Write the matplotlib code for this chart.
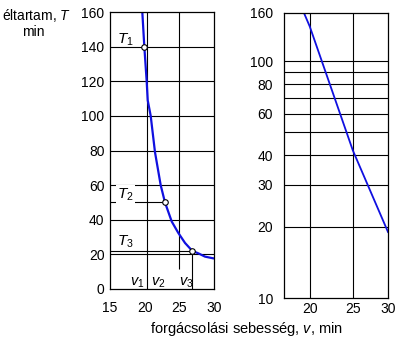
import numpy as np
import matplotlib.pyplot as plt
from matplotlib.ticker import FixedLocator, NullLocator, FixedFormatter

plt.rcParams['font.family'] = ['Liberation Sans', 'DejaVu Sans']
plt.rcParams['font.size'] = 10
plt.rcParams['mathtext.fontset'] = 'custom'
plt.rcParams['mathtext.rm'] = 'Liberation Sans'
plt.rcParams['mathtext.it'] = 'Liberation Sans:italic'

# bal oldali diagram: T(v) lineáris tengelyeken
v_curve = [19.66, 19.95, 20.29, 20.44, 20.87, 21.49, 22.31, 22.93, 23.9,
           24.85, 25.82, 26.87, 27.74, 28.7, 29.9, 30.0]
T_curve = [160, 140, 120, 109, 100, 79, 60, 50, 39,
           32.4, 26.6, 22, 20.6, 18.7, 17.7, 17.7]
v_points = [19.95, 22.93, 26.87]
T_points = [140, 50, 22]
T_labels = ['$T_1$', '$T_2$', '$T_3$']
v_labels = ['$v_1$', '$v_2$', '$v_3$']
left_xticks = [15, 20, 25, 30]
left_yticks = [0, 20, 40, 60, 80, 100, 120, 140, 160]

# jobb oldali diagram: log-log
v_log = [19.4, 20.0, 25.0, 30.0]
T_log = [160, 140, 42, 19]
right_xticks = [20, 25, 30]
right_yticks = [10, 20, 30, 40, 60, 80, 100, 160]
right_ygrid = [20, 30, 40, 50, 60, 70, 80, 90, 100]

fig = plt.figure(figsize=(4.0, 3.41), dpi=100)
ax1 = fig.add_axes([0.275, 0.1525, 0.26, 0.8123])
ax2 = fig.add_axes([0.71, 0.126, 0.26, 0.8366])

lw_grid = 0.8
blue = '#1010e0'

# --- bal ---
ax1.set_xlim(15, 30)
ax1.set_ylim(0, 160)
for t in [20, 40, 60, 80, 100, 120, 140]:
    ax1.axhline(t, color='black', lw=lw_grid, zorder=1)
ax1.axvline(20.3, color='black', lw=lw_grid, zorder=1)
ax1.vlines(25, 11.5, 160, color='black', lw=lw_grid, zorder=1)
# segédvonalak T2, T3, v3
ax1.hlines(T_points[1], 15, v_points[1], color='black', lw=lw_grid, zorder=1)
ax1.hlines(T_points[2], 15, v_points[2], color='black', lw=lw_grid, zorder=1)
ax1.vlines(v_points[2], 0, T_points[2], color='black', lw=lw_grid, zorder=1)
ax1.plot(v_curve, T_curve, color=blue, lw=1.6, zorder=2)
ax1.plot(v_points, T_points, 'o', ms=4, mfc='white', mec='black', mew=0.8, zorder=3)

ax1.text(16.0, 141.5, T_labels[0], fontsize=11, zorder=4)
ax1.text(16.0, 52.5, T_labels[1], fontsize=11, zorder=4,
         bbox=dict(facecolor='white', edgecolor='none', pad=1))
ax1.text(16.0, 25, T_labels[2], fontsize=11, zorder=4)
for x, lab in zip([17.9, 20.9, 24.9], v_labels):
    ax1.text(x, 2, lab, fontsize=10.5, zorder=4)

ax1.set_xticks(left_xticks)
ax1.set_yticks(left_yticks)
ax1.tick_params(length=0, pad=4)
ax1.tick_params(axis='x', pad=9)

# --- jobb ---
ax2.set_xscale('log')
ax2.set_yscale('log')
ax2.set_xlim(17.5, 30)
ax2.set_ylim(10, 160)
for t in right_ygrid:
    ax2.axhline(t, color='black', lw=lw_grid, zorder=1)
for v in [20, 25]:
    ax2.axvline(v, color='black', lw=lw_grid, zorder=1)
ax2.plot(v_log, T_log, color=blue, lw=1.3, zorder=2)
ax2.xaxis.set_major_locator(FixedLocator(right_xticks))
ax2.xaxis.set_major_formatter(FixedFormatter([str(v) for v in right_xticks]))
ax2.xaxis.set_minor_locator(NullLocator())
ax2.yaxis.set_major_locator(FixedLocator(right_yticks))
ax2.yaxis.set_major_formatter(FixedFormatter([str(t) for t in right_yticks]))
ax2.yaxis.set_minor_locator(NullLocator())
ax2.tick_params(length=0, pad=8, which='both')
ax2.tick_params(axis='x', pad=3)

for ax in (ax1, ax2):
    for s in ax.spines.values():
        s.set_linewidth(0.9)

fig.text(0.092, 0.941, 'éltartam, $T$', ha='center', va='baseline')
fig.text(0.084, 0.894, 'min', ha='center', va='baseline')
fig.text(0.615, 0.035, 'forgácsolási sebesség, $v$, min', ha='center', va='center',
         fontsize=10.5)

fig.savefig('out.png', dpi=100)
